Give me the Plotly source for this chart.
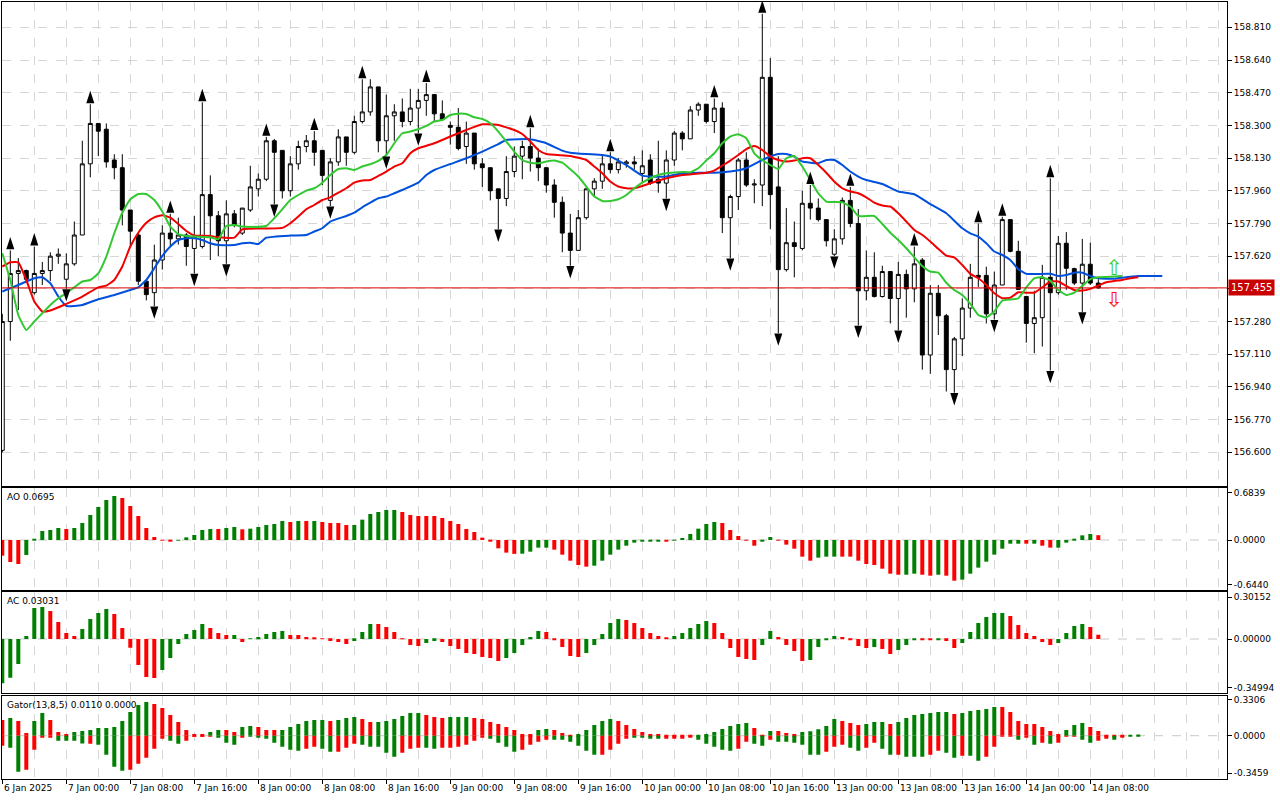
import plotly.graph_objects as go

# hourly bars from 6 Jan 2025 16:00 to 14 Jan 09:00, x = bar number on the chart
opens = [156.61, 157.28, 157.53, 157.545, 157.43, 157.53, 157.545, 157.62, 157.50, 157.58,
         157.73, 158.10, 158.31, 158.28, 158.12, 158.08, 157.86, 157.73, 157.49, 157.43,
         157.60, 157.74, 157.71, 157.73, 157.66, 157.67, 157.94, 157.83, 157.70, 157.84,
         157.74, 157.86, 157.97, 158.02, 158.22, 158.17, 157.96, 158.10, 158.19, 158.22,
         158.17, 157.91, 158.11, 158.24, 158.16, 158.32, 158.37, 158.50, 158.22, 158.35,
         158.37, 158.32, 158.39, 158.43, 158.46, 158.36, 158.30, 158.29, 158.19, 158.26,
         158.10, 158.08, 157.97, 157.92, 158.06, 158.14, 158.19, 158.13, 158.08, 157.99,
         157.90, 157.74, 157.65, 157.82, 157.97, 158.01, 158.10, 158.07, 158.10, 158.11,
         158.05, 158.12, 158.02, 158.00, 158.12, 158.26, 158.23, 158.38, 158.41, 158.32,
         158.39, 157.82, 157.93, 158.12, 157.99, 157.99, 158.55, 157.98, 157.55, 157.69,
         157.66, 157.895, 157.87, 157.81, 157.63, 157.71, 157.91, 157.79, 157.44, 157.51,
         157.41, 157.54, 157.40, 157.525, 157.45, 157.60, 157.106, 157.427, 157.31, 157.03,
         157.19, 157.35, 157.52, 157.52, 157.32, 157.47, 157.81, 157.645, 157.41, 157.27,
         157.30, 157.51, 157.43, 157.687, 157.555, 157.48, 157.578, 157.48]
highs = [157.32, 157.65, 157.61, 157.55, 157.67, 157.59, 157.64, 157.66, 157.635, 157.80,
         158.22, 158.41, 158.31, 158.31, 158.15, 158.15, 157.86, 157.74, 157.49, 157.68,
         157.78, 157.84, 157.82, 157.74, 157.83, 158.42, 158.04, 157.855, 157.91, 157.86,
         157.87, 158.09, 158.05, 158.24, 158.23, 158.17, 158.14, 158.22, 158.25, 158.27,
         158.17, 158.13, 158.28, 158.24, 158.35, 158.54, 158.54, 158.50, 158.46, 158.41,
         158.44, 158.49, 158.49, 158.52, 158.46, 158.43, 158.32, 158.39, 158.32, 158.26,
         158.13, 158.08, 157.97, 158.14, 158.19, 158.22, 158.285, 158.18, 158.08, 158.02,
         157.93, 157.84, 157.86, 157.98, 158.025, 158.15, 158.16, 158.13, 158.12, 158.14,
         158.17, 158.15, 158.22, 158.17, 158.27, 158.27, 158.40, 158.42, 158.41, 158.44,
         158.42, 157.94, 158.13, 158.16, 158.02, 158.88, 158.65, 158.14, 157.87, 157.80,
         157.96, 157.99, 157.92, 157.81, 157.76, 157.925, 157.98, 157.865, 157.65, 157.64,
         157.57, 157.54, 157.59, 157.55, 157.67, 157.61, 157.47, 157.47, 157.32, 157.20,
         157.40, 157.58, 157.79, 157.565, 157.54, 157.825, 157.81, 157.70, 157.41, 157.44,
         157.575, 158.025, 157.725, 157.745, 157.56, 157.71, 157.69, 157.50]
lows = [156.60, 157.18, 157.34, 157.48, 157.42, 157.47, 157.49, 157.58, 157.45, 157.57,
        157.73, 158.03, 158.14, 158.08, 158.02, 157.78, 157.67, 157.47, 157.39, 157.36,
        157.55, 157.67, 157.68, 157.57, 157.53, 157.66, 157.60, 157.62, 157.58, 157.77,
        157.73, 157.85, 157.93, 158.01, 157.89, 157.92, 157.93, 158.07, 158.16, 158.09,
        157.99, 157.88, 158.09, 158.09, 158.15, 158.31, 158.35, 158.16, 158.14, 158.22,
        158.29, 158.30, 158.26, 158.35, 158.32, 158.33, 158.20, 158.17, 158.10, 158.07,
        157.98, 157.91, 157.76, 157.88, 158.03, 158.02, 158.06, 158.01, 157.95, 157.82,
        157.64, 157.57, 157.65, 157.81, 157.93, 157.97, 158.05, 158.05, 158.08, 158.07,
        158.00, 157.99, 157.95, 157.92, 158.09, 158.17, 158.23, 158.35, 158.31, 158.26,
        157.74, 157.61, 157.86, 157.98, 157.895, 157.88, 157.76, 157.22, 157.54, 157.51,
        157.65, 157.81, 157.80, 157.67, 157.62, 157.68, 157.77, 157.26, 157.39, 157.405,
        157.405, 157.27, 157.235, 157.30, 157.38, 157.03, 157.008, 157.21, 156.916, 156.91,
        157.10, 157.30, 157.46, 157.27, 157.29, 157.47, 157.64, 157.445, 157.17, 157.115,
        157.15, 157.025, 157.42, 157.445, 157.47, 157.33, 157.47, 157.45]
closes = [157.28, 157.53, 157.545, 157.50, 157.53, 157.545, 157.62, 157.63, 157.58, 157.73,
          158.10, 158.31, 158.27, 158.11, 158.08, 157.86, 157.75, 157.49, 157.42, 157.60,
          157.74, 157.71, 157.73, 157.67, 157.72, 157.94, 157.83, 157.70, 157.84, 157.78,
          157.87, 157.98, 158.02, 158.22, 158.16, 157.96, 158.10, 158.19, 158.22, 158.16,
          158.04, 158.11, 158.24, 158.16, 158.32, 158.37, 158.50, 158.22, 158.35, 158.37,
          158.32, 158.39, 158.43, 158.46, 158.36, 158.33, 158.29, 158.18, 158.26, 158.10,
          158.08, 157.96, 157.92, 158.06, 158.14, 158.19, 158.13, 158.08, 157.99, 157.90,
          157.74, 157.65, 157.82, 157.97, 158.01, 158.10, 158.07, 158.11, 158.11, 158.10,
          158.09, 158.00, 158.00, 158.12, 158.26, 158.23, 158.38, 158.41, 158.32, 158.39,
          157.82, 157.93, 158.12, 157.99, 157.995, 158.55, 157.94, 157.55, 157.69, 157.67,
          157.895, 157.87, 157.81, 157.70, 157.71, 157.91, 157.79, 157.44, 157.51, 157.41,
          157.54, 157.40, 157.525, 157.45, 157.58, 157.106, 157.427, 157.31, 157.03, 157.19,
          157.35, 157.51, 157.51, 157.32, 157.47, 157.81, 157.645, 157.447, 157.27, 157.30,
          157.51, 157.43, 157.687, 157.557, 157.48, 157.578, 157.48, 157.455]
last_price = 157.455

# alligator lines (bar, price), already shifted forward
jaw = [(0, 157.436), (2, 157.470), (4, 157.505), (5, 157.510), (6, 157.479), (7, 157.410),
       (8, 157.361), (10, 157.366), (12, 157.396), (14, 157.418), (16, 157.444), (17, 157.458),
       (18, 157.496), (19, 157.557), (20, 157.621), (21, 157.670), (22, 157.704), (23, 157.713),
       (24, 157.713), (25, 157.704), (26, 157.687), (27, 157.678), (29, 157.678), (30, 157.687),
       (31, 157.690), (32, 157.683), (33, 157.716), (36, 157.727), (38, 157.730), (39, 157.748),
       (40, 157.765), (41, 157.800), (43, 157.829), (44, 157.846), (45, 157.874), (46, 157.898),
       (47, 157.921), (48, 157.930), (49, 157.947), (50, 157.964), (52, 158.002), (53, 158.042),
       (54, 158.068), (56, 158.099), (58, 158.129), (60, 158.164), (62, 158.203), (63, 158.224),
       (66, 158.228), (68, 158.207), (70, 158.169), (71, 158.158), (73, 158.151), (75, 158.146),
       (76, 158.138), (77, 158.117), (78, 158.094), (79, 158.065), (80, 158.039), (81, 158.034),
       (83, 158.034), (85, 158.051), (87, 158.054), (89, 158.054), (91, 158.060), (93, 158.077),
       (95, 158.120), (96, 158.138), (97, 158.151), (98, 158.151), (99, 158.138), (100, 158.112),
       (102, 158.103), (103, 158.120), (104, 158.120), (105, 158.094), (106, 158.060), (107, 158.034),
       (108, 158.016), (110, 157.995), (112, 157.956), (114, 157.942), (116, 157.891), (118, 157.843),
       (120, 157.765), (121, 157.739), (122, 157.722), (123, 157.687), (124, 157.644), (125, 157.626),
       (126, 157.600), (127, 157.552), (128, 157.528), (131, 157.528), (132, 157.517), (133, 157.522),
       (134, 157.534), (135, 157.534), (136, 157.517), (137, 157.505), (139, 157.502), (140, 157.508),
       (142, 157.517), (145, 157.517)]
teeth = [(0, 157.566), (1, 157.588), (2, 157.588), (3, 157.496), (4, 157.384), (5, 157.332),
         (6, 157.337), (8, 157.372), (10, 157.410), (12, 157.458), (13, 157.467), (14, 157.496),
         (15, 157.566), (16, 157.670), (17, 157.742), (18, 157.794), (19, 157.822), (20, 157.833),
         (21, 157.820), (22, 157.787), (23, 157.751), (24, 157.728), (26, 157.725), (27, 157.718),
         (29, 157.716), (30, 157.760), (31, 157.763), (35, 157.767), (36, 157.791), (37, 157.826),
         (38, 157.864), (39, 157.886), (40, 157.912), (41, 157.926), (42, 157.950), (43, 157.973),
         (44, 158.002), (45, 158.013), (46, 158.016), (47, 158.037), (48, 158.060), (49, 158.086),
         (50, 158.103), (51, 158.155), (52, 158.181), (54, 158.207), (56, 158.242), (58, 158.276),
         (60, 158.306), (62, 158.302), (64, 158.276), (65, 158.255), (66, 158.216), (67, 158.172),
         (68, 158.151), (71, 158.141), (73, 158.120), (74, 158.086), (75, 158.051), (76, 158.008),
         (77, 157.982), (78, 157.973), (79, 157.973), (81, 157.999), (83, 158.025), (85, 158.042),
         (88, 158.054), (89, 158.065), (90, 158.091), (91, 158.117), (92, 158.146), (93, 158.177),
         (94, 158.193), (95, 158.172), (96, 158.138), (97, 158.120), (98, 158.112), (99, 158.117),
         (100, 158.129), (101, 158.129), (102, 158.094), (103, 158.054), (104, 158.008), (105, 157.973),
         (106, 157.956), (107, 157.947), (108, 157.926), (109, 157.898), (110, 157.883), (111, 157.878),
         (112, 157.843), (113, 157.800), (114, 157.756), (115, 157.730), (116, 157.696), (117, 157.658),
         (118, 157.623), (119, 157.614), (120, 157.574), (121, 157.528), (122, 157.505), (123, 157.470),
         (124, 157.427), (125, 157.401), (126, 157.404), (127, 157.432), (128, 157.430), (129, 157.430),
         (130, 157.458), (131, 157.488), (132, 157.488), (133, 157.465), (134, 157.444), (135, 157.441),
         (136, 157.450), (137, 157.467), (138, 157.484), (139, 157.491), (140, 157.496), (141, 157.505),
         (142, 157.510)]
lips = [(0, 157.635), (1, 157.496), (2, 157.314), (3, 157.236), (4, 157.280), (5, 157.323),
        (6, 157.366), (7, 157.401), (8, 157.427), (9, 157.458), (10, 157.488), (11, 157.496),
        (12, 157.531), (13, 157.618), (14, 157.739), (15, 157.846), (16, 157.916), (17, 157.943),
        (18, 157.943), (19, 157.912), (20, 157.852), (21, 157.774), (22, 157.734), (23, 157.725),
        (24, 157.722), (26, 157.718), (27, 157.708), (28, 157.777), (29, 157.782), (30, 157.774),
        (31, 157.772), (33, 157.777), (34, 157.817), (35, 157.864), (36, 157.912), (37, 157.938),
        (38, 157.961), (39, 157.973), (40, 158.002), (41, 158.042), (42, 158.073), (43, 158.077),
        (44, 158.068), (45, 158.086), (46, 158.098), (47, 158.115), (48, 158.146), (49, 158.207),
        (50, 158.259), (51, 158.268), (52, 158.280), (53, 158.297), (54, 158.320), (55, 158.328),
        (56, 158.354), (57, 158.361), (58, 158.359), (59, 158.342), (60, 158.333), (61, 158.311),
        (62, 158.268), (63, 158.216), (64, 158.164), (65, 158.120), (66, 158.106), (67, 158.103),
        (68, 158.112), (69, 158.117), (70, 158.106), (71, 158.072), (72, 158.034), (73, 157.982),
        (74, 157.930), (75, 157.907), (76, 157.907), (77, 157.916), (78, 157.938), (79, 157.973),
        (80, 158.002), (81, 158.025), (82, 158.042), (83, 158.051), (85, 158.058), (86, 158.056),
        (87, 158.077), (88, 158.117), (89, 158.155), (90, 158.207), (91, 158.242), (92, 158.254),
        (93, 158.233), (94, 158.155), (95, 158.120), (96, 158.094), (97, 158.073), (98, 158.129),
        (99, 158.141), (100, 158.086), (101, 158.016), (102, 157.947), (103, 157.904), (105, 157.900),
        (106, 157.878), (107, 157.829), (109, 157.829), (110, 157.787), (111, 157.742), (112, 157.704),
        (113, 157.661), (114, 157.614), (115, 157.569), (116, 157.540), (117, 157.534), (118, 157.482),
        (119, 157.444), (120, 157.418), (121, 157.372), (122, 157.314), (123, 157.301), (124, 157.332),
        (125, 157.389), (127, 157.401), (128, 157.458), (129, 157.505), (130, 157.510), (131, 157.493),
        (132, 157.444), (133, 157.418), (134, 157.430), (135, 157.465), (136, 157.500), (137, 157.510),
        (139, 157.514), (140, 157.517)]

# fractal bars
fractal_up = [1, 4, 11, 21, 25, 33, 39, 45, 53, 66, 76, 89, 95, 101, 106, 114, 122, 125, 131]
fractal_down = [8, 19, 24, 28, 34, 41, 48, 52, 62, 71, 83, 91, 97, 104, 107, 112, 119, 124, 131, 135]

# buy / sell signal arrows
signal_x = [139, 139]
signal_y = [157.548, 157.385]
signal_txt = ['⇧', '⇩']
signal_col = ['#33cc33', '#ff1010']

# Awesome Oscillator
ao = [-0.226, -0.317, -0.346, -0.216, 0.005, 0.13, 0.144, 0.173, 0.158, 0.173,
      0.245, 0.36, 0.475, 0.576, 0.634, 0.605, 0.49, 0.346, 0.173, 0.043,
      -0.005, -0.024, -0.005, 0.038, 0.072, 0.144, 0.158, 0.158, 0.173, 0.187,
      0.154, 0.163, 0.187, 0.216, 0.23, 0.274, 0.259, 0.274, 0.274, 0.274,
      0.259, 0.245, 0.245, 0.216, 0.216, 0.293, 0.374, 0.403, 0.432, 0.432,
      0.403, 0.36, 0.346, 0.346, 0.346, 0.317, 0.274, 0.23, 0.158, 0.115,
      0.034, -0.024, -0.12, -0.182, -0.2, -0.197, -0.168, -0.11, -0.11, -0.139,
      -0.211, -0.298, -0.36, -0.384, -0.37, -0.298, -0.211, -0.139, -0.082, -0.038,
      -0.019, -0.019, -0.024, -0.024, -0.01, 0.029, 0.086, 0.163, 0.23, 0.259,
      0.245, 0.144, 0.058, -0.005, -0.082, -0.024, 0.043, -0.005, -0.067, -0.125,
      -0.24, -0.298, -0.254, -0.24, -0.24, -0.24, -0.24, -0.298, -0.346, -0.36,
      -0.413, -0.485, -0.5, -0.5, -0.485, -0.5, -0.514, -0.5, -0.514, -0.586,
      -0.571, -0.485, -0.398, -0.312, -0.211, -0.125, -0.053, -0.053, -0.053, -0.053,
      -0.082, -0.11, -0.11, -0.038, 0.014, 0.067, 0.086, 0.0695]
ao_col = ('rrrgggggrg' 'gggggrrrrr' 'rrgggggrgg' 'rgggggrgrg' 'rrrrgggggg'
          'rrrrrrrrrr' 'rrrrrggggr' 'rrrrgggggg' 'gggrgggggg' 'rrrrrggrrr'
          'rrgggrrrrr' 'rrrggrrgrr' 'ggggggggrg' 'rrgggggr')

# Accelerator Oscillator
ac = [-0.321, -0.28, -0.181, 0.022, 0.224, 0.232, 0.203, 0.123, 0.043, 0.022,
      0.072, 0.145, 0.188, 0.217, 0.181, 0.08, -0.063, -0.188, -0.275, -0.282,
      -0.224, -0.138, -0.036, 0.036, 0.065, 0.109, 0.08, 0.043, 0.029, 0.029,
      -0.022, -0.002, 0.014, 0.036, 0.051, 0.058, 0.029, 0.029, 0.014, 0.007,
      0.002, -0.014, -0.022, -0.036, -0.014, 0.051, 0.109, 0.109, 0.087, 0.051,
      -0.002, -0.043, -0.051, -0.029, -0.014, -0.022, -0.051, -0.072, -0.101, -0.109,
      -0.13, -0.138, -0.159, -0.138, -0.101, -0.043, 0.014, 0.058, 0.051, -0.007,
      -0.058, -0.123, -0.13, -0.101, -0.043, 0.036, 0.116, 0.145, 0.138, 0.116,
      0.08, 0.043, 0.022, 0.007, 0.022, 0.043, 0.08, 0.109, 0.13, 0.116,
      0.043, -0.065, -0.13, -0.145, -0.152, -0.043, 0.058, 0.014, -0.043, -0.087,
      -0.159, -0.152, -0.058, -0.007, 0.022, 0.014, -0.007, -0.051, -0.065, -0.058,
      -0.072, -0.109, -0.08, -0.043, -0.007, -0.007, -0.007, -0.007, -0.014, -0.065,
      -0.029, 0.051, 0.116, 0.159, 0.188, 0.188, 0.167, 0.101, 0.043, 0.022,
      -0.022, -0.043, -0.029, 0.043, 0.094, 0.109, 0.087, 0.0303]
ac_col = ('ggggggrrrr' 'ggggrrrrrr' 'ggggggrrrg' 'rgggggrrrr' 'rrrrgggrrr'
          'rrrggrrrrr' 'rrrgggggrr' 'rrrgggggrr' 'rrrrgggggr' 'rrrrrggrrr'
          'rggggrrrrg' 'rrgggrrgrr' 'ggggggrrrr' 'rrggggrr')

# Gator oscillator, upper and lower histograms
gator_up = [0.145, 0.163, 0.135, 0.025, 0.135, 0.209, 0.145, 0.034, 0.015, 0.034,
            0.043, 0.052, 0.071, 0.071, 0.08, 0.135, 0.218, 0.283, 0.311, 0.292,
            0.255, 0.191, 0.126, 0.052, 0.015, 0.015, 0.034, 0.052, 0.052, 0.034,
            0.08, 0.089, 0.08, 0.052, 0.052, 0.052, 0.08, 0.108, 0.135, 0.145,
            0.145, 0.135, 0.145, 0.163, 0.172, 0.154, 0.126, 0.126, 0.135, 0.154,
            0.182, 0.209, 0.209, 0.191, 0.172, 0.163, 0.172, 0.172, 0.172, 0.163,
            0.154, 0.126, 0.108, 0.08, 0.052, 0.015, 0.015, 0.052, 0.062, 0.052,
            0.025, 0.006, 0.015, 0.052, 0.098, 0.135, 0.154, 0.135, 0.098, 0.062,
            0.034, 0.015, 0.015, 0.006, 0.003, 0.002, 0.002, 0.002, 0.015, 0.034,
            0.062, 0.089, 0.108, 0.117, 0.071, 0.002, 0.043, 0.043, 0.025, 0.015,
            0.034, 0.04, 0.06, 0.089, 0.154, 0.135, 0.117, 0.098, 0.108, 0.126,
            0.126, 0.108, 0.126, 0.163, 0.191, 0.2, 0.209, 0.218, 0.218, 0.2,
            0.209, 0.228, 0.237, 0.246, 0.265, 0.265, 0.218, 0.135, 0.108, 0.108,
            0.08, 0.043, 0.015, 0.052, 0.098, 0.117, 0.08, 0.043, 0.006, 0.006,
            0.006, 0.006, 0.011]
gator_up_col = ('rgrrggrrrg' 'gggggggggr' 'rrrrrrggrr' 'ggrrrggggg' 'grgggrrggg'
                'gggrrrgggr' 'rrrrrrrggr' 'rrgggggrrr' 'rrrrrrrggg' 'ggggrrgrrr'
                'gggggrrrgg' 'grgggggggr' 'gggggrrrrr' 'rrrgggrrrr' 'rgg')
gator_dn = [-0.092, -0.111, -0.332, -0.314, -0.129, -0.018, -0.018, -0.046, -0.046, -0.046,
            -0.071, -0.074, -0.083, -0.175, -0.286, -0.323, -0.314, -0.258, -0.203, -0.12,
            -0.028, -0.046, -0.074, -0.046, -0.009, -0.003, -0.009, -0.018, -0.065, -0.083,
            -0.018, -0.009, -0.018, -0.028, -0.065, -0.102, -0.129, -0.138, -0.12, -0.102,
            -0.12, -0.148, -0.148, -0.111, -0.074, -0.083, -0.102, -0.102, -0.157, -0.194,
            -0.157, -0.12, -0.111, -0.111, -0.12, -0.111, -0.111, -0.102, -0.083, -0.046,
            -0.018, -0.028, -0.065, -0.102, -0.148, -0.129, -0.083, -0.055, -0.037, -0.037,
            -0.037, -0.055, -0.092, -0.138, -0.175, -0.175, -0.129, -0.074, -0.028, -0.018,
            -0.018, -0.028, -0.028, -0.028, -0.028, -0.028, -0.018, -0.037, -0.074, -0.102,
            -0.129, -0.138, -0.12, -0.055, -0.074, -0.092, -0.037, -0.055, -0.055, -0.065,
            -0.083, -0.175, -0.175, -0.148, -0.102, -0.083, -0.111, -0.138, -0.111, -0.065,
            -0.12, -0.175, -0.175, -0.194, -0.194, -0.194, -0.175, -0.138, -0.157, -0.203,
            -0.185, -0.185, -0.231, -0.194, -0.102, -0.009, -0.009, -0.037, -0.018, -0.083,
            -0.065, -0.074, -0.065, -0.009, -0.009, -0.037, -0.065, -0.046, -0.028, -0.037,
            -0.015, 0.0, 0.0]
gator_dn_col = ('rggrrrrggg' 'grggggrrrr' 'rggrrrrggg' 'rgggggggrr' 'ggrrrggggg'
                'rrrggrrrrr' 'rggggrrrrg' 'gggggrrrrg' 'gggrrrrggg' 'ggrrggrggg'
                'gggrrrggrr' 'ggrgggrrgg' 'rggrrrrgrg' 'rgrrrggrrg' 'rrr')

# date labels every 8 bars
label_bars = [0, 8, 16, 24, 32, 40, 48, 56, 64, 72, 80, 88, 96, 104, 112, 120, 128, 136]
label_text = ['6 Jan 2025', '7 Jan 00:00', '7 Jan 08:00', '7 Jan 16:00', '8 Jan 00:00',
              '8 Jan 08:00', '8 Jan 16:00', '9 Jan 00:00', '9 Jan 08:00', '9 Jan 16:00',
              '10 Jan 00:00', '10 Jan 08:00', '10 Jan 16:00', '13 Jan 00:00', '13 Jan 08:00',
              '13 Jan 16:00', '14 Jan 00:00', '14 Jan 08:00']
price_ticks = [158.81, 158.64, 158.47, 158.30, 158.13, 157.96, 157.79, 157.62, 157.45,
               157.28, 157.11, 156.94, 156.77, 156.60]

assert len(ao_col) == len(ao) and len(ac_col) == len(ac)
assert len(gator_up_col) == len(gator_up) and len(gator_dn_col) == len(gator_dn)

GREEN = '#008000'
RED = '#ff0000'
GRID = '#d6d6d6'
FONT = dict(family='DejaVu Sans', size=9, color='black')
col_map = {'g': GREEN, 'r': RED}

bars = list(range(len(opens)))

fig = go.Figure()

fig.add_trace(go.Candlestick(
    x=bars, open=opens, high=highs, low=lows, close=closes,
    increasing=dict(fillcolor='white', line=dict(color='black', width=1)),
    decreasing=dict(fillcolor='black', line=dict(color='black', width=1)),
    whiskerwidth=0, xaxis='x', yaxis='y', hoverinfo='skip'
))

for pts, colr in [(jaw, '#0050dc'), (teeth, '#f00000'), (lips, '#32c832')]:
    fig.add_trace(go.Scatter(
        x=[p[0] for p in pts], y=[p[1] for p in pts], mode='lines',
        line=dict(color=colr, width=2, shape='spline', smoothing=0.4),
        xaxis='x', yaxis='y', hoverinfo='skip'
    ))

# fractal arrows: the marker tip sits on the point, so keep a gap above the high / below the low
fig.add_trace(go.Scatter(
    x=fractal_up, y=[highs[i] + 0.07 for i in fractal_up], mode='markers',
    marker=dict(symbol='arrow', size=13, color='black', angle=0, line=dict(width=0)),
    xaxis='x', yaxis='y', hoverinfo='skip'
))
fig.add_trace(go.Scatter(
    x=fractal_down, y=[lows[i] - 0.066 for i in fractal_down], mode='markers',
    marker=dict(symbol='arrow', size=13, color='black', angle=180, line=dict(width=0)),
    xaxis='x', yaxis='y', hoverinfo='skip'
))

# the two hollow signal arrows, one trace each so their text boxes stay apart
for sx, sy, st, sc in zip(signal_x, signal_y, signal_txt, signal_col):
    fig.add_trace(go.Scatter(
        x=[sx], y=[sy], mode='text', text=[st],
        textfont=dict(family='DejaVu Sans', size=21, color=sc),
        xaxis='x', yaxis='y', hoverinfo='skip'
    ))

fig.add_trace(go.Bar(x=bars, y=ao, width=0.5, marker=dict(color=[col_map[c] for c in ao_col], line=dict(width=0)),
                     xaxis='x2', yaxis='y2', hoverinfo='skip'))
fig.add_trace(go.Bar(x=bars, y=ac, width=0.5, marker=dict(color=[col_map[c] for c in ac_col], line=dict(width=0)),
                     xaxis='x3', yaxis='y3', hoverinfo='skip'))
gx = list(range(len(gator_up)))
fig.add_trace(go.Bar(x=gx, y=gator_up, width=0.5,
                     marker=dict(color=[col_map[c] for c in gator_up_col], line=dict(width=0)),
                     xaxis='x4', yaxis='y4', hoverinfo='skip'))
fig.add_trace(go.Bar(x=gx, y=gator_dn, width=0.5,
                     marker=dict(color=[col_map[c] for c in gator_dn_col], line=dict(width=0)),
                     xaxis='x4', yaxis='y4', hoverinfo='skip'))

x_range = [-0.0375, 153.0875]
x_common = dict(
    range=x_range, domain=[2 / 1280, 1227 / 1280],
    tickmode='array', tickvals=label_bars, showticklabels=False,
    showgrid=True, gridcolor=GRID, griddash='dash', gridwidth=1,
    minor=dict(tickmode='linear', tick0=0, dtick=4, showgrid=True, gridcolor=GRID, griddash='dash'),
    showline=True, linecolor='black', linewidth=1, mirror=True, zeroline=False,
    fixedrange=True, rangeslider=dict(visible=False)
)
y_common = dict(
    side='right', ticks='outside', ticklen=4, tickcolor='black', tickfont=FONT,
    showline=True, linecolor='black', linewidth=1, mirror=True, zeroline=False,
    showgrid=False, fixedrange=True
)

fig.update_layout(
    width=1280, height=800,
    margin=dict(l=0, r=0, t=0, b=0),
    paper_bgcolor='white', plot_bgcolor='white',
    showlegend=False, hovermode=False, barmode='overlay',
    xaxis=dict(x_common, anchor='y'),
    xaxis2=dict(x_common, anchor='y2', matches='x'),
    xaxis3=dict(x_common, anchor='y3', matches='x'),
    xaxis4=dict(x_common, anchor='y4', matches='x', ticks='outside', ticklen=4, tickcolor='black'),
    yaxis=dict(y_common, anchor='x', domain=[1 - 485.5 / 800, 1 - 2 / 800], range=[156.4274, 158.9416],
               tickvals=price_ticks,
               ticktext=['' if abs(v - last_price) < 0.02 else f'{v:.3f}' for v in price_ticks],
               showgrid=True, gridcolor=GRID, griddash='dash'),
    yaxis2=dict(y_common, anchor='x2', domain=[1 - 590 / 800, 1 - 487.7 / 800], range=[-0.72, 0.753],
                tickvals=[0.6839, 0, -0.644], ticktext=['0.6839', '0.0000', '-0.6440']),
    yaxis3=dict(y_common, anchor='x3', domain=[1 - 693.3 / 800, 1 - 592.3 / 800], range=[-0.393, 0.338],
                tickvals=[0.30152, 0, -0.34994], ticktext=['0.30152', '0.00000', '-0.34994']),
    yaxis4=dict(y_common, anchor='x4', domain=[1 - 779.3 / 800, 1 - 695.7 / 800], range=[-0.402, 0.369],
                tickvals=[0.3306, 0, -0.3459], ticktext=['0.3306', '0.0000', '-0.3459']),
)

# zero lines of the oscillators
for ax in ['2', '3', '4']:
    fig.add_shape(type='line', xref=f'x{ax} domain', x0=0, x1=1, yref=f'y{ax}', y0=0, y1=0,
                  line=dict(color='#c8c8c8', width=1, dash='dash'), layer='below')

# current bid line and its price tag
fig.add_shape(type='line', xref='x domain', x0=0, x1=1, yref='y', y0=last_price, y1=last_price,
              line=dict(color='#e00000', width=1))
fig.add_annotation(x=1228 / 1280, xref='paper', y=last_price, yref='y', text=f'{last_price:.3f}',
                   showarrow=False, xanchor='left', yanchor='middle', bgcolor='#c80000',
                   font=dict(family='DejaVu Sans', size=10, color='white'), borderpad=2)

# indicator names
for txt, ypix in [('AO 0.0695', 496.7), ('AC 0.03031', 601.3), ('Gator(13,8,5) 0.0110 0.0000', 704.7)]:
    fig.add_annotation(x=5 / 1280, xref='paper', y=1 - ypix / 800, yref='paper', text=txt,
                       showarrow=False, xanchor='left', yanchor='middle', font=FONT)

# time labels start at their tick, like the terminal does
for b, txt in zip(label_bars, label_text):
    fig.add_annotation(x=b, xref='x4', y=1 - 788 / 800, yref='paper', text=txt,
                       showarrow=False, xanchor='left', yanchor='middle', font=FONT)

fig.write_html("out.html", config={'displayModeBar': False},
               post_script="document.body.style.margin='0';document.body.style.overflow='hidden';")
